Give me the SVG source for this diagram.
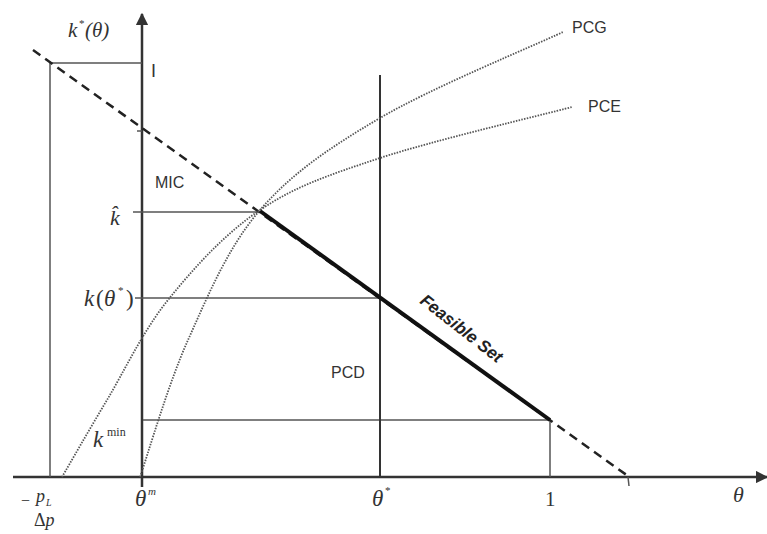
<svg xmlns="http://www.w3.org/2000/svg" width="767" height="534" viewBox="0 0 767 534">
<defs>
<marker id="arr" viewBox="0 0 10 10" refX="9" refY="5" markerWidth="5" markerHeight="5" orient="auto" markerUnits="strokeWidth">
<path d="M0,0 L10,5 L0,10 z" fill="#333"/>
</marker>
<style>
.axis{stroke:#333;stroke-width:2.5;fill:none}
.thin{stroke:#555;stroke-width:1.5;fill:none}
.dash{stroke:#222;stroke-width:2.5;stroke-dasharray:9 6;fill:none}
.feas{stroke:#111;stroke-width:4;fill:none}
.dot{stroke:#555;stroke-width:1.8;stroke-dasharray:1.5 1.3;fill:none}
.math{font-family:"Liberation Serif",serif;font-style:italic;fill:#333}
.up{font-style:normal}
.sans{font-family:"Liberation Sans",Arial,sans-serif;fill:#333;font-size:16px}
</style>
</defs>
<rect width="767" height="534" fill="#fff"/>
<g id="connectors">
<line class="axis" x1="13" y1="477" x2="767" y2="477" marker-end="url(#arr)"/>
<line class="axis" x1="142" y1="487" x2="142" y2="14" marker-end="url(#arr)"/>
<line class="thin" x1="50" y1="63" x2="142" y2="63"/>
<line class="thin" x1="50" y1="63" x2="50" y2="477"/>
<line class="thin" x1="133" y1="212" x2="260" y2="212"/>
<line class="thin" x1="135" y1="298" x2="380" y2="298"/>
<line class="thin" x1="143" y1="420" x2="550" y2="420"/>
<line class="axis" x1="380" y1="75" x2="380" y2="477" style="stroke-width:2"/>
<line class="thin" x1="550" y1="420" x2="550" y2="477"/>
<line class="thin" x1="137" y1="131" x2="142" y2="131"/>
<line class="thin" x1="628" y1="477" x2="629" y2="486"/>
<line class="dash" x1="33" y1="50" x2="628" y2="476"/>
<line class="feas" x1="260" y1="211" x2="550" y2="420"/>
<path id="pcg" class="dot" d="M140,477 C148,454.2 168,384.5 188,340 C208,295.5 228,247 260,210 C292,173 329.5,147.7 380,118 C430.5,88.3 532.5,46.3 563,32"/>
<path id="pce" class="dot" d="M62,477 C69.5,464.2 89.3,429.5 107,400 C124.7,370.5 142.5,331.7 168,300 C193.5,268.3 224.7,233.7 260,210 C295.3,186.3 328,175.2 380,158 C432,140.8 540,115.5 572,107"/>
</g>
<g id="label-ktheta"><text class="math" x="68" y="37" font-size="21">k</text><text class="math up" x="79" y="27" font-size="11">*</text><text class="math" x="85" y="37" font-size="21">(θ)</text></g>
<g id="label-I"><text class="sans" x="151" y="77" style="font-size:18px">I</text></g>
<g id="label-MIC"><text class="sans" x="155" y="188">MIC</text></g>
<g id="label-khat"><text class="math" x="110" y="225" font-size="22">k̂</text></g>
<g id="label-ktheta-star"><text class="math" x="84" y="306" font-size="23">k</text><text class="math up" x="96" y="306" font-size="23">(</text><text class="math" x="104" y="306" font-size="23">θ</text><text class="math up" x="118" y="294" font-size="11">*</text><text class="math up" x="126" y="306" font-size="23">)</text></g>
<g id="label-kmin"><text class="math" x="93" y="447" font-size="23">k</text><text class="math up" x="107" y="436" font-size="12">min</text></g>
<g id="label-PCD"><text class="sans" x="331" y="378">PCD</text></g>
<g id="label-PCG"><text class="sans" x="572" y="33">PCG</text></g>
<g id="label-PCE"><text class="sans" x="588" y="112">PCE</text></g>
<g id="label-feasible"><text class="sans" x="458" y="333" text-anchor="middle" transform="rotate(38 458 333)" style="font-weight:bold;font-style:italic;font-size:17px;fill:#222">Feasible Set</text></g>
<g id="label-pL"><text class="math up" x="21" y="506" font-size="16">−</text><text class="math" x="36" y="502" font-size="18">p</text><text class="math" x="46" y="506" font-size="10">L</text><text class="math" x="34" y="526" font-size="18"><tspan class="up">Δ</tspan>p</text></g>
<g id="label-thetam"><text class="math" x="135" y="506" font-size="23">θ</text><text class="math" x="148" y="495" font-size="11">m</text></g>
<g id="label-thetastar"><text class="math" x="372" y="506" font-size="23">θ</text><text class="math up" x="385" y="494" font-size="11">*</text></g>
<g id="label-one"><text class="math up" x="545" y="506" font-size="21">1</text></g>
<g id="label-theta"><text class="math" x="733" y="502" font-size="22">θ</text></g>
</svg>
